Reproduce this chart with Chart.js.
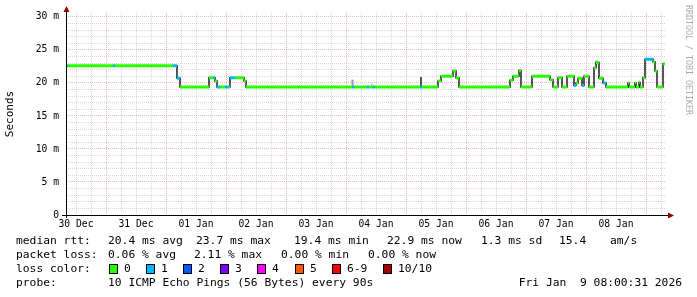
<!DOCTYPE html>
<html>
<head>
<meta charset="UTF-8">
<title>SmokePing median rtt - 10 days</title>
<script src="https://cdn.jsdelivr.net/npm/chart.js"></script>
<style>
  body { margin: 0; background: #fff; }
  #wrap { width: 697px; height: 297px; }
</style>
</head>
<body>
<div id="wrap"><canvas id="pingChart" width="697" height="297"></canvas></div>
<script>
// time axis: hours since 30 Dec 08:00, 240 h shown
const hourStart = [0, 0.8, 18.8, 19.6, 42.8, 44.4, 45.6, 57.2, 58.8, 59.6, 60.4, 61.6, 63.6, 65.2,
  65.6, 67.6, 71.2, 72, 114.4, 115.2, 120.4, 121.2, 122.8, 123.6, 141.6, 142.4, 148.8, 150,
  154.8, 156, 157.2, 177.6, 178.8, 181.2, 182, 186.4, 193.6, 194.8, 196.8, 198.4, 200.4, 203.2,
  204, 204.8, 206.4, 207.2, 209.2, 211.2, 212, 213.2, 214.8, 216, 224.8, 225.2, 227.6, 228,
  229.2, 229.6, 230.8, 231.6, 234.8, 235.6, 236.4, 238.8];
const medianMs = [22.6, 22.6, 22.6, 22.6, 22.6, 20.7, 19.4, 20.8, 20.8, 20.3, 19.4, 19.4, 19.4, 19.4,
  20.8, 20.8, 20.3, 19.4, 19.4, 19.4, 19.4, 19.4, 19.4, 19.4, 19.4, 19.4, 20.3, 21.0,
  21.8, 20.8, 19.4, 20.4, 21.0, 21.9, 19.4, 21.0, 20.5, 19.4, 20.8, 19.4, 21.0, 19.6,
  20.0, 20.7, 19.6, 21.0, 19.4, 22.3, 23.1, 20.7, 20.0, 19.4, 20.0, 19.4, 20.0, 19.4,
  20.1, 19.4, 20.8, 23.6, 23.2, 21.8, 19.4, 22.9];
const lossLevel = [1, 0, 1, 0, 1, 1, 0, 0, 1, 0, 1, 0, 1, 0,
  1, 0, 0, 0, 1, 0, 1, 0, 1, 0, 1, 0, 0, 0,
  0, 0, 0, 0, 0, 0, 0, 0, 0, 0, 0, 0, 0, 1,
  0, 0, 1, 0, 0, 0, 0, 0, 1, 0, 0, 0, 0, 0,
  0, 0, 0, 1, 0, 0, 0, 0];
const lastHour = 239.6;

// a few visible smoke spikes
const smokeHour = [114.6, 142.0, 122.4, 212.2];
const smokeLow = [19.4, 19.4, 19.4, 22.8];
const smokeHigh = [20.5, 20.9, 19.9, 23.4];
const smokeShade = ['#9a9a9a', '#555555', '#c4c4c4', '#a0a0a0'];

const dayLabels = ['30 Dec', '31 Dec', '01 Jan', '02 Jan', '03 Jan', '04 Jan', '05 Jan', '06 Jan', '07 Jan', '08 Jan'];

const lossColors = ['#26ff00', '#00b8ff', '#0059ff', '#7e00ff', '#ff00ff', '#ff5500', '#ff0000', '#a00000'];
const lossNames = ['0', '1', '2', '3', '4', '5', '6-9', '10/10'];

const rttLine = ['median rtt:', '20.4 ms avg', '23.7 ms max', '19.4 ms min', '22.9 ms now', '1.3 ms sd', '15.4', 'am/s'];
const lossLine = ['packet loss:', '0.06 % avg', '2.11 % max', '0.00 % min', '0.00 % now'];
const probeText = '10 ICMP Echo Pings (56 Bytes) every 90s';
const stampText = 'Fri Jan  9 08:00:31 2026';

const MONO = '"DejaVu Sans Mono", monospace';

// dark median line
const medianPts = hourStart.map((h, i) => ({ x: h, y: medianMs[i] }));
medianPts.push({ x: lastHour, y: medianMs[medianMs.length - 1] });

// loss coloured band, one dataset per loss level
function bandFor(level) {
  const pts = [];
  hourStart.forEach((h, i) => {
    if (lossLevel[i] !== level) return;
    const end = i + 1 < hourStart.length ? hourStart[i + 1] : lastHour;
    pts.push({ x: h, y: medianMs[i] }, { x: end, y: medianMs[i] }, { x: end, y: null });
  });
  return pts;
}

const smokePts = [];
smokeHour.forEach((h, i) => {
  smokePts.push({ x: h, y: smokeLow[i] }, { x: h, y: smokeHigh[i] }, { x: h, y: null });
});

const datasets = [
  {
    data: smokePts, borderWidth: 2, pointRadius: 0, order: 3, spanGaps: false,
    segment: { borderColor: c => smokeShade[Math.floor(c.p0DataIndex / 3)] }
  },
  { data: medianPts, borderColor: '#202020', borderWidth: 1.5, pointRadius: 0, stepped: 'before', order: 2 }
];
lossColors.forEach((col, lv) => {
  datasets.push({
    data: bandFor(lv), borderColor: col, borderWidth: 3, borderCapStyle: 'butt',
    pointRadius: 0, spanGaps: false, order: 1
  });
});

const gridGray = 'rgba(170,170,170,0.45)';
const gridRed = 'rgba(225,90,90,0.45)';

// axes with arrows and all the rrdtool style text
const decorPlugin = {
  id: 'decor',
  afterDraw(chart) {
    const c = chart.ctx;
    const a = chart.chartArea;
    c.save();
    c.strokeStyle = '#000';
    c.lineWidth = 1;
    c.beginPath();
    c.moveTo(a.left - 4, a.bottom + 0.5);
    c.lineTo(a.right + 5, a.bottom + 0.5);
    c.moveTo(a.left + 0.5, a.bottom + 3);
    c.lineTo(a.left + 0.5, a.top - 3);
    c.stroke();
    c.fillStyle = '#900000';
    c.beginPath();
    c.moveTo(a.right + 2, a.bottom - 2.5);
    c.lineTo(a.right + 8, a.bottom + 0.5);
    c.lineTo(a.right + 2, a.bottom + 3.5);
    c.fill();
    c.beginPath();
    c.moveTo(a.left - 2.5, a.top - 1);
    c.lineTo(a.left + 0.5, a.top - 7);
    c.lineTo(a.left + 3.5, a.top - 1);
    c.fill();

    // unit title
    c.fillStyle = '#000';
    c.font = '11px ' + MONO;
    c.textAlign = 'center';
    c.textBaseline = 'middle';
    c.save();
    c.translate(10, 114);
    c.rotate(-Math.PI / 2);
    c.fillText('Seconds', 0, 0);
    c.restore();

    // watermark on the right
    c.save();
    c.fillStyle = '#ababab';
    c.font = '8.3px ' + MONO;
    c.translate(688, 60);
    c.rotate(Math.PI / 2);
    c.fillText('RRDTOOL / TOBI OETIKER', 0, 0);
    c.restore();

    // legend rows
    c.font = '11.3px ' + MONO;
    c.textAlign = 'left';
    const rttX = [16, 108, 196, 294, 387, 481, 559, 610];
    rttLine.forEach((t, i) => c.fillText(t, rttX[i], 241));
    const lossX = [16, 108, 194, 281, 368];
    lossLine.forEach((t, i) => c.fillText(t, lossX[i], 255));
    c.fillText('loss color:', 16, 269);
    const boxX = [109, 146, 183, 220, 257, 295, 332, 383];
    lossColors.forEach((col, i) => {
      c.fillStyle = col;
      c.fillRect(boxX[i], 264, 9, 10);
      c.strokeStyle = '#000';
      c.strokeRect(boxX[i] + 0.5, 264.5, 8, 9);
      c.fillStyle = '#000';
      c.fillText(lossNames[i], boxX[i] + 15, 269);
    });
    c.fillText('probe:', 16, 283);
    c.fillText(probeText, 108, 283);
    c.textAlign = 'right';
    c.fillText(stampText, 682, 283);
    c.restore();
  }
};

new Chart(document.getElementById('pingChart'), {
  type: 'line',
  data: { datasets },
  plugins: [decorPlugin],
  options: {
    responsive: false,
    animation: false,
    layout: { padding: { top: 13, right: 31, bottom: 0, left: 0 } },
    plugins: { legend: { display: false }, tooltip: { enabled: false } },
    scales: {
      x: {
        type: 'linear', min: 0, max: 240,
        afterBuildTicks: s => {
          const t = [];
          for (let h = 4; h < 240; h += 6) t.push({ value: h });
          s.ticks = t;
        },
        afterFit: s => { s.height = 82; },
        grid: {
          drawTicks: false,
          color: c => ((c.tick && (c.tick.value - 4) % 24 === 12) ? gridRed : gridGray)
        },
        border: { display: false, dash: [1, 1] },
        ticks: {
          autoSkip: false, maxRotation: 0, padding: 4, color: '#000',
          font: { family: MONO, size: 9.7 },
          callback: v => ((v - 4) % 24 === 0 ? dayLabels[(v - 4) / 24] : '')
        }
      },
      y: {
        type: 'linear', min: 0, max: 30.6,
        afterBuildTicks: s => {
          const t = [];
          for (let v = 0; v <= 30; v++) t.push({ value: v });
          s.ticks = t;
        },
        afterFit: s => { s.width = 66; },
        grid: {
          drawTicks: false,
          color: c => ((c.tick && c.tick.value % 5 === 0) ? gridRed : gridGray)
        },
        border: { display: false, dash: [1, 1] },
        ticks: {
          autoSkip: false, padding: 7, color: '#000',
          font: { family: MONO, size: 9.7 },
          callback: v => (v % 5 === 0 ? (v === 0 ? '0' : v + ' m') : '')
        }
      }
    }
  }
});
</script>
</body>
</html>
